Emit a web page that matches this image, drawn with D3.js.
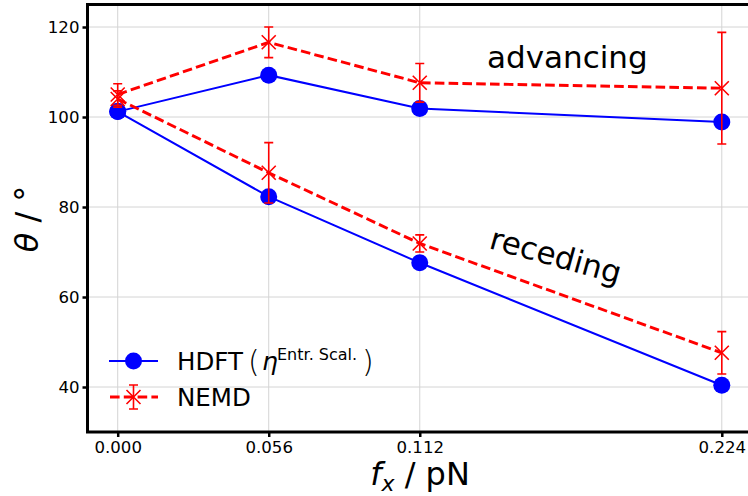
<!DOCTYPE html>
<html><head><meta charset="utf-8">
<script src="https://cdn.jsdelivr.net/npm/d3@7"></script>
<style>body{margin:0;background:#fff}text{font-family:"DejaVu Sans",sans-serif;fill:#000}</style>
</head><body>
<script>
const forces = [0, 0.056, 0.112, 0.224];
const xTicks = [0, 0.056, 0.112, 0.224];
const xTickLabels = ["0.000", "0.056", "0.112", "0.224"];
const yTicks = [40, 60, 80, 100, 120];
const hdftAdv = [101.2, 109.3, 101.9, 98.9];
const hdftRec = [101.2, 82.3, 67.6, 40.4];
const nemdAdv = [105.0, 116.6, 107.6, 106.4];
const nemdAdvErr = [2.4, 3.4, 4.3, 12.4];
const nemdRec = [104.0, 87.6, 71.9, 47.6];
const nemdRecErr = [1.8, 6.7, 1.9, 4.7];

const W = 748, H = 496;
const L = 87.5, R = 752, T = 4.5, B = 432;
const svg = d3.select("body").append("svg").attr("width", W).attr("height", H);
const x = d3.scaleLinear().domain([-0.0112, 0.2352]).range([L, R]);
const y = d3.scaleLinear().domain([30, 125]).range([B, T]);

// grid
const grid = svg.append("g");
grid.selectAll(".gx").data(xTicks).join("line")
  .attr("x1", d => x(d)).attr("x2", d => x(d)).attr("y1", T).attr("y2", B)
  .attr("stroke", "#d4d4d4").attr("stroke-width", 1);
grid.selectAll(".gy").data(yTicks).join("line")
  .attr("y1", d => y(d)).attr("y2", d => y(d)).attr("x1", L).attr("x2", R)
  .attr("stroke", "#d4d4d4").attr("stroke-width", 1);

// axes
const xAxis = svg.append("g").attr("transform", `translate(0,${B})`)
  .call(d3.axisBottom(x).tickValues(xTicks).tickFormat((d, i) => xTickLabels[i]).tickSize(5).tickPadding(4));
const yAxis = svg.append("g").attr("transform", `translate(${L},0)`)
  .call(d3.axisLeft(y).tickValues(yTicks).tickSize(5).tickPadding(3));
[xAxis, yAxis].forEach(a => {
  a.select(".domain").remove();
  a.selectAll(".tick line").attr("stroke", "#000").attr("stroke-width", 2.5);
  a.selectAll(".tick text").attr("font-size", 16.6).attr("font-family", "DejaVu Sans").attr("fill", "#000");
});

const clip = svg.append("defs").append("clipPath").attr("id", "c")
  .append("rect").attr("x", L).attr("y", T).attr("width", R - L).attr("height", B - T);
const plot = svg.append("g").attr("clip-path", "url(#c)");

const line = d3.line().x(d => x(d[0])).y(d => y(d[1]));
function blueSeries(vals) {
  const pts = forces.map((f, i) => [f, vals[i]]);
  plot.append("path").attr("d", line(pts)).attr("fill", "none").attr("stroke", "#0000ff").attr("stroke-width", 2);
  plot.selectAll(null).data(pts).join("circle").attr("cx", d => x(d[0])).attr("cy", d => y(d[1]))
    .attr("r", 8.5).attr("fill", "#0000ff");
}
function xMark(g, cx, cy, s) {
  g.append("path").attr("d", `M${cx - s},${cy - s}L${cx + s},${cy + s}M${cx - s},${cy + s}L${cx + s},${cy - s}`)
    .attr("stroke", "#ff0000").attr("stroke-width", 1.6).attr("fill", "none");
}
function errBar(g, cx, y1, y2) {
  g.append("path").attr("d", `M${cx},${y1}V${y2}M${cx - 4.5},${y1}H${cx + 4.5}M${cx - 4.5},${y2}H${cx + 4.5}`)
    .attr("stroke", "#ff0000").attr("stroke-width", 1.6).attr("fill", "none");
}
function redSeries(vals, errs) {
  const pts = forces.map((f, i) => [f, vals[i]]);
  plot.append("path").attr("d", line(pts)).attr("fill", "none").attr("stroke", "#ff0000")
    .attr("stroke-width", 2.9).attr("stroke-dasharray", "9.6,4.2");
  forces.forEach((f, i) => {
    errBar(plot, x(f), y(vals[i] + errs[i]), y(vals[i] - errs[i]));
    xMark(plot, x(f), y(vals[i]), 7);
  });
}
blueSeries(hdftAdv);
blueSeries(hdftRec);
redSeries(nemdAdv, nemdAdvErr);
redSeries(nemdRec, nemdRecErr);

// frame
svg.append("rect").attr("x", L).attr("y", T).attr("width", R - L).attr("height", B - T)
  .attr("fill", "none").attr("stroke", "#000").attr("stroke-width", 3);

// annotations
svg.append("text").attr("x", 487).attr("y", 68).attr("font-size", 31).text("advancing");
svg.append("text").attr("font-size", 31).attr("text-anchor", "middle")
  .attr("transform", "translate(553,266) rotate(15.5)").text("receding");

// axis labels
const xl = svg.append("text").attr("x", 420).attr("y", 485).attr("font-size", 32).attr("text-anchor", "middle");
xl.append("tspan").attr("font-style", "italic").text("f");
xl.append("tspan").attr("font-style", "italic").attr("font-size", 22).attr("dy", 6).text("x");
xl.append("tspan").attr("dy", -6).text(" / pN");
const yl = svg.append("text").attr("transform", "translate(38,219) rotate(-90)").attr("font-size", 32).attr("text-anchor", "middle");
yl.append("tspan").attr("font-style", "italic").text("θ");
yl.append("tspan").text(" / °");

// legend
const lg = svg.append("g");
lg.append("line").attr("x1", 109).attr("x2", 158).attr("y1", 361).attr("y2", 361).attr("stroke", "#0000ff").attr("stroke-width", 2);
lg.append("circle").attr("cx", 133.5).attr("cy", 361).attr("r", 8.5).attr("fill", "#0000ff");
lg.append("line").attr("x1", 110).attr("x2", 158).attr("y1", 397).attr("y2", 397).attr("stroke", "#ff0000")
  .attr("stroke-width", 2.9).attr("stroke-dasharray", "9.6,4.2");
errBar(lg, 133.5, 385, 409);
xMark(lg, 133.5, 397, 7);
lg.append("text").attr("x", 177).attr("y", 370).attr("font-size", 24.5).text("HDFT");
lg.append("text").attr("x", 248).attr("y", 372).attr("font-size", 30).attr("font-weight", 200).text("(");
lg.append("text").attr("x", 262).attr("y", 370).attr("font-size", 25).attr("font-style", "italic").text("η");
lg.append("text").attr("x", 277).attr("y", 360).attr("font-size", 16).text("Entr. Scal.");
lg.append("text").attr("x", 362).attr("y", 372).attr("font-size", 30).attr("font-weight", 200).text(")");
lg.append("text").attr("x", 177).attr("y", 406).attr("font-size", 24.5).text("NEMD");
</script>
</body></html>
